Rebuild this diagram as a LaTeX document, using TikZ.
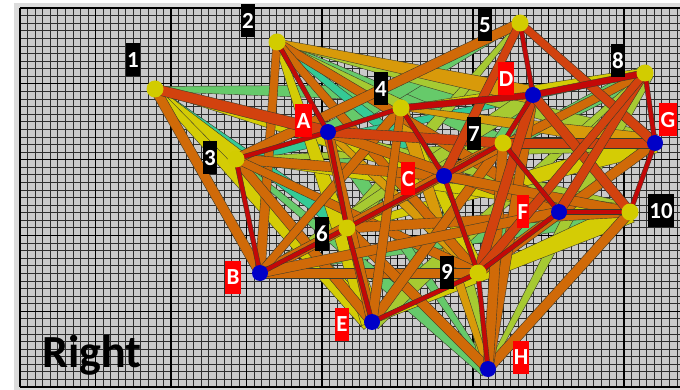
\documentclass[tikz,border=0pt]{standalone}
\usepackage{fontspec}
\setmainfont{Carlito}
\usetikzlibrary{calc}
\pgfdeclarelayer{bg}\pgfdeclarelayer{edges}
\pgfsetlayers{bg,edges,main}
\definecolor{cRed}{HTML}{C40808}
\definecolor{cOrR}{HTML}{D2420E}
\definecolor{cOr}{HTML}{D06A08}
\definecolor{cAmb}{HTML}{D89A0A}
\definecolor{cYel}{HTML}{D4CC05}
\definecolor{cYG}{HTML}{A6CA32}
\definecolor{cGr}{HTML}{66CA6A}
\definecolor{cTeal}{HTML}{34CA96}
\definecolor{nYel}{HTML}{D2CC00}
\definecolor{nBlue}{HTML}{0000C8}
\definecolor{lblRed}{HTML}{FF0000}
\definecolor{gridbg}{HTML}{CACACA}
\definecolor{gridln}{HTML}{2E2E2E}
\definecolor{framegrey}{HTML}{DCDCDC}
\definecolor{edgeline}{HTML}{3A3A2A}
\newcommand\tubeE[5]{%
  \filldraw[fill=#5,draw=edgeline,line width=0.4pt]
    let \p1=(#1.center),\p2=(#2.center),\n1={atan2(\y2-\y1,\x2-\x1)} in
    ($(#1.center)+(\n1+90:#3pt)$) -- ($(#2.center)+(\n1+90:#4pt)$) --
    ($(#2.center)+(\n1-90:#4pt)$) -- ($(#1.center)+(\n1-90:#3pt)$) -- cycle;}
\begin{document}
\begin{tikzpicture}[x=1pt,y=-1pt,
  ynode/.style={circle,fill=nYel,minimum size=17pt,inner sep=0pt},
  bnode/.style={circle,fill=nBlue,minimum size=16pt,inner sep=0pt},
  numlab/.style={fill=black,text=white,font=\fontsize{23}{23}\selectfont\bfseries,minimum height=33pt,inner xsep=1.2pt,inner ysep=0pt},
  letlab/.style={numlab,fill=lblRed},
  minorln/.style={draw=gridln,line width=0.7pt},
  majorln/.style={draw=black,line width=1.3pt}]
\useasboundingbox (0,0) rectangle (680,390);
% vertices
\node[ynode] (n1) at (155,89) {};
\node[ynode] (n2) at (277,42) {};
\node[ynode] (n3) at (236,159) {};
\node[ynode] (n4) at (401,108) {};
\node[ynode] (n5) at (520,23) {};
\node[ynode] (n6) at (347,228) {};
\node[ynode] (n7) at (503,143) {};
\node[ynode] (n8) at (645,73) {};
\node[ynode] (n9) at (478,273) {};
\node[ynode] (n10) at (630,212) {};
\node[bnode] (nA) at (328,132) {};
\node[bnode] (nB) at (260,273) {};
\node[bnode] (nC) at (444,176) {};
\node[bnode] (nD) at (533,95) {};
\node[bnode] (nE) at (372,322) {};
\node[bnode] (nF) at (559,212) {};
\node[bnode] (nG) at (655,143) {};
\node[bnode] (nH) at (488,369) {};
% labels
\node[numlab] (l1) at (133,60) {1};
\node[numlab] (l2) at (248,21) {2};
\node[numlab] (l3) at (210,158) {3};
\node[numlab] (l4) at (381,89) {4};
\node[numlab] (l5) at (485,25) {5};
\node[numlab] (l6) at (322,234) {6};
\node[numlab] (l7) at (474,134) {7};
\node[numlab] (l8) at (618,61) {8};
\node[numlab] (l9) at (447,272) {9};
\node[numlab] (l10) at (661,211) {10};
\node[letlab] (lA) at (303.5,121) {A};
\node[letlab] (lB) at (233,277) {B};
\node[letlab] (lC) at (408,179) {C};
\node[letlab] (lD) at (506,79) {D};
\node[letlab] (lE) at (342,324) {E};
\node[letlab] (lF) at (523,212) {F};
\node[letlab] (lG) at (668,120) {G};
\node[letlab] (lH) at (521,357) {H};
\node[anchor=base west,inner sep=0pt,font=\fontsize{46}{46}\selectfont\bfseries] (title) at (42,367) {Right};
% grid
\begin{pgfonlayer}{bg}
\fill[white] (0,0) rectangle (680,390);
\fill[framegrey] (14,3) rectangle (680,390);
\fill[gridbg] (20,8) rectangle (680,387);
\foreach \i in {0,...,87} \draw[minorln] ({20+\i*7.55},8) -- ({20+\i*7.55},387);
\foreach \j in {0,...,50} \draw[minorln] (20,{8+\j*7.58}) -- (680,{8+\j*7.58});
\foreach \i in {0,...,8} \draw[majorln] ({20+\i*75.5},8) -- ({20+\i*75.5},387);
\foreach \j in {0,...,5} \draw[majorln] (20,{8+\j*75.8}) -- (680,{8+\j*75.8});
\end{pgfonlayer}
% edges
\begin{pgfonlayer}{edges}
\tubeE{n1}{nD}{2.5}{11}{cGr}
\tubeE{n2}{n7}{2}{8}{cGr}
\tubeE{n3}{nH}{2}{9}{cGr}
\tubeE{nB}{n10}{2}{9}{cGr}
\tubeE{n5}{nA}{2}{9}{cGr}
\tubeE{nE}{nD}{2}{8}{cGr}
\tubeE{nA}{nH}{8}{2}{cGr}
\tubeE{n6}{n8}{2}{8}{cGr}
\tubeE{n1}{n6}{2.5}{8}{cTeal}
\tubeE{n2}{nC}{2}{7}{cTeal}
\tubeE{n8}{n3}{2}{5}{cTeal}
\tubeE{n2}{n4}{2}{8}{cYG}
\tubeE{n2}{nG}{2}{9}{cYG}
\tubeE{n5}{n6}{2}{9}{cYG}
\tubeE{n8}{nE}{2}{9}{cYG}
\tubeE{nH}{n8}{2}{9}{cYG}
\tubeE{nC}{nH}{2}{8}{cYG}
\tubeE{n3}{nG}{2}{8}{cYG}
\tubeE{nA}{n10}{2}{8}{cYG}
\tubeE{nB}{nD}{2}{8}{cYG}
\tubeE{n1}{n3}{3}{10}{cYel}
\tubeE{n1}{nE}{3}{11}{cYel}
\tubeE{n1}{nC}{2.5}{8}{cYel}
\tubeE{n2}{nE}{3}{11}{cYel}
\tubeE{nE}{n10}{2}{11}{cYel}
\tubeE{n4}{n8}{2}{5}{cYel}
\tubeE{nG}{n6}{10}{3}{cYel}
\tubeE{n4}{n9}{2}{8}{cYel}
\tubeE{n3}{n10}{2}{7}{cYel}
\tubeE{n2}{nD}{3}{9}{cAmb}
\tubeE{nH}{n4}{3}{7}{cAmb}
\tubeE{n4}{nG}{2}{9}{cAmb}
\tubeE{nA}{n9}{3}{6}{cAmb}
\tubeE{n1}{nB}{5}{5}{cOr}
\tubeE{n2}{nB}{4}{5}{cOr}
\tubeE{n2}{nF}{4}{6}{cOr}
\tubeE{n2}{n9}{4}{5}{cOr}
\tubeE{n3}{nC}{5}{5}{cOr}
\tubeE{n3}{nE}{5}{5}{cOr}
\tubeE{n3}{n9}{4}{5}{cOr}
\tubeE{nB}{n9}{5}{5}{cOr}
\tubeE{nB}{n7}{5}{5}{cOr}
\tubeE{nB}{n4}{4}{5}{cOr}
\tubeE{n6}{n10}{5}{5}{cOr}
\tubeE{n6}{nH}{5}{5}{cOr}
\tubeE{nE}{nA}{5}{5}{cOr}
\tubeE{nE}{n7}{5}{5}{cOr}
\tubeE{nA}{nF}{5}{5}{cOr}
\tubeE{n5}{n3}{5}{5}{cOr}
\tubeE{nG}{n9}{5}{5}{cOr}
\tubeE{n10}{nH}{5}{5}{cOr}
\tubeE{n8}{nC}{4}{5}{cOr}
\tubeE{nD}{nH}{5}{5}{cOr}
\tubeE{n7}{nH}{5}{5}{cOr}
\tubeE{nF}{nB}{5}{5}{cOr}
\tubeE{nC}{n10}{5}{5}{cOr}
\tubeE{n4}{nE}{4}{5}{cOr}
\tubeE{n1}{nA}{5}{6}{cOrR}
\tubeE{nA}{n7}{5}{5}{cOrR}
\tubeE{n7}{nG}{5}{5}{cOrR}
\tubeE{n5}{nC}{4}{5}{cOrR}
\tubeE{n5}{nG}{4}{5}{cOrR}
\tubeE{nD}{n9}{5}{5}{cOrR}
\tubeE{nD}{n10}{5}{5}{cOrR}
\tubeE{n8}{nF}{4}{5}{cOrR}
\tubeE{n8}{n9}{4}{5}{cOrR}
\tubeE{n2}{nA}{2.3}{2.3}{cRed}
\tubeE{n3}{nA}{2.3}{2.3}{cRed}
\tubeE{nA}{n4}{2.3}{2.3}{cRed}
\tubeE{nA}{n6}{2.3}{2.3}{cRed}
\tubeE{n3}{nB}{2.3}{2.3}{cRed}
\tubeE{nB}{n6}{2.3}{2.3}{cRed}
\tubeE{n6}{nC}{2.3}{2.3}{cRed}
\tubeE{n6}{nE}{2.3}{2.3}{cRed}
\tubeE{n4}{nC}{2.3}{2.3}{cRed}
\tubeE{nC}{n7}{2.3}{2.3}{cRed}
\tubeE{nC}{n9}{2.3}{2.3}{cRed}
\tubeE{nE}{n9}{2.3}{2.3}{cRed}
\tubeE{n9}{nF}{2.3}{2.3}{cRed}
\tubeE{n9}{nH}{2.3}{2.3}{cRed}
\tubeE{nF}{n7}{2.3}{2.3}{cRed}
\tubeE{nF}{n10}{2.3}{2.3}{cRed}
\tubeE{nD}{n4}{3.3}{3.3}{cRed}
\tubeE{nD}{n5}{2.3}{2.3}{cRed}
\tubeE{nD}{n7}{2.3}{2.3}{cRed}
\tubeE{nD}{n8}{3.3}{3.3}{cRed}
\tubeE{n8}{nG}{2.3}{2.3}{cRed}
\tubeE{nG}{n10}{2.3}{2.3}{cRed}
\end{pgfonlayer}
\end{tikzpicture}
\end{document}
